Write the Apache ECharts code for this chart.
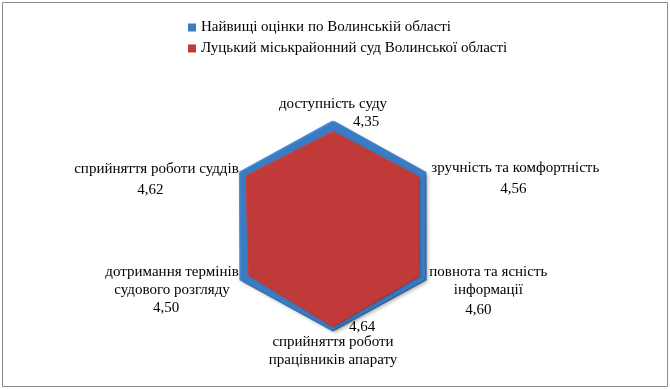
<!DOCTYPE html>
<html>
<head>
<meta charset="utf-8">
<script src="https://cdn.jsdelivr.net/npm/echarts@6/dist/echarts.min.js"></script>
<style>html,body{margin:0;padding:0;background:#fff}#c{width:670px;height:389px}</style>
</head>
<body>
<div id="c"></div>
<script>
// Data (order: top, then counter-clockwise as ECharts draws radar axes)
var categories = [
  'доступність суду',
  'сприйняття роботи суддів',
  'дотримання термінів\nсудового розгляду',
  'сприйняття роботи\nпрацівників апарату',
  'повнота та ясність\nінформації',
  'зручність та комфортність'
];
var seriesNames = ['Найвищі оцінки по Волинській області', 'Луцький міськрайонний суд Волинської області'];
var highestValues = [4.82, 4.95, 4.93, 4.82, 4.93, 4.92];
var courtValues = [4.35, 4.62, 4.50, 4.64, 4.60, 4.56];
var valueLabels = ['4,35', '4,62', '4,50', '4,64', '4,60', '4,56'];
var axisMax = 5;

// Per-label layout tweaks (style only)
var lay = [
  {spacer: 0, padL: 0, padR: 0, lh: 18, vlh: 18, vPadL: 66, vPadR: 0, valueFirst: false},
  {spacer: 3, padL: 0, padR: 12, lh: 21, vlh: 21, vPadL: 0, vPadR: 12, valueFirst: false},
  {spacer: 34, padL: 0, padR: 12, lh: 18, vlh: 18, vPadL: 0, vPadR: 12, valueFirst: false},
  {spacer: 0, padL: 0, padR: 0, lh: 18, vlh: 12, vPadL: 58, vPadR: 0, valueFirst: true},
  {spacer: 38, padL: 14, padR: 0, lh: 18, vlh: 22, vPadL: 0, vPadR: 20, valueFirst: false},
  {spacer: 0, padL: 16, padR: 0, lh: 21, vlh: 21, vPadL: 0, vPadR: 4, valueFirst: false}
];
var FONT = '"Liberation Serif", "Times New Roman", serif';
var FS = 15;
var rich = {};
lay.forEach(function (L, i) {
  rich['s' + i] = {lineHeight: Math.max(L.spacer, 1), fontSize: 1, align: 'center'};
  rich['n' + i] = {lineHeight: L.lh, align: 'center', padding: [0, L.padR, 0, L.padL], fontFamily: FONT, fontSize: FS, color: '#000'};
  rich['v' + i] = {lineHeight: L.vlh, align: 'center', padding: [0, L.padR + L.vPadR, 0, L.padL + L.vPadL], fontFamily: FONT, fontSize: FS, color: '#000'};
});

var chart = echarts.init(document.getElementById('c'), null, {renderer: 'canvas'});
chart.setOption({
  animation: false,
  backgroundColor: '#fff',
  graphic: [{
    type: 'rect', shape: {x: 2.5, y: 2.5, width: 665, height: 384},
    style: {fill: 'none', stroke: '#8a8a8a', lineWidth: 1}, silent: true
  }],
  legend: {
    orient: 'vertical', left: 183, top: 15, itemWidth: 8, itemHeight: 8, itemGap: 6,
    icon: 'rect',
    textStyle: {fontFamily: FONT, fontSize: FS, color: '#000'},
    data: seriesNames
  },
  radar: {
    center: [333, 226],
    radius: 108,
    startAngle: 90,
    splitNumber: 5,
    nameGap: -13,
    indicator: categories.map(function (c) { return {name: c, min: 0, max: axisMax}; }),
    axisLine: {show: false},
    splitLine: {show: false},
    splitArea: {show: false},
    axisTick: {show: false},
    axisLabel: {show: false},
    axisName: {
      color: '#000', fontFamily: FONT, fontSize: FS,
      rich: rich,
      formatter: function (name, ind) {
        var i = categories.indexOf(name);
        var L = lay[i];
        var parts = [];
        if (L.spacer) parts.push('{s' + i + '| }');
        var names = name.split('\n').map(function (t) { return '{n' + i + '|' + t + '}'; });
        var val = '{v' + i + '|' + valueLabels[i] + '}';
        if (L.valueFirst) { parts.push(val); parts = parts.concat(names); }
        else { parts = parts.concat(names); parts.push(val); }
        return parts.join('\n');
      }
    }
  },
  series: [{
    type: 'radar',
    symbol: 'none',
    data: [{
      name: seriesNames[0],
      value: highestValues,
      itemStyle: {color: '#3A7DC2'},
      lineStyle: {color: '#4F93DC', width: 3, join: 'miter'},
      areaStyle: {color: '#3A7BC4', opacity: 1, shadowBlur: 4, shadowColor: 'rgba(0,0,0,0.4)', shadowOffsetX: 2, shadowOffsetY: 2}
    }, {
      name: seriesNames[1],
      value: courtValues,
      itemStyle: {color: '#C0393A'},
      lineStyle: {color: '#D24848', width: 2, join: 'miter'},
      areaStyle: {color: '#C13A3A', opacity: 1, shadowBlur: 3, shadowColor: 'rgba(0,0,0,0.3)', shadowOffsetX: 1, shadowOffsetY: 1}
    }]
  }]
});
</script>
</body>
</html>
